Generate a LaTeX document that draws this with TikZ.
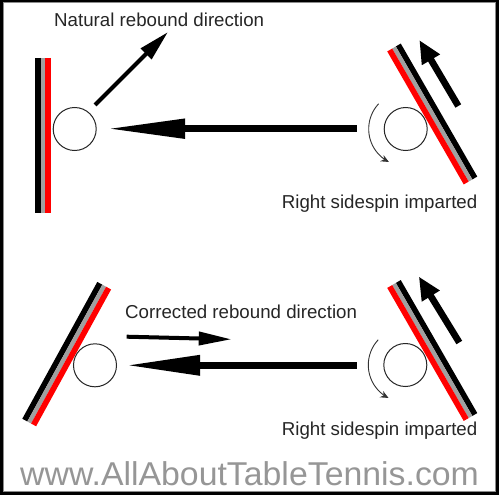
\documentclass[tikz,border=0pt]{standalone}
\usepackage{fontspec}
\setmainfont{Liberation Sans}
\usetikzlibrary{arrows.meta}
\definecolor{rgray}{RGB}{160,160,160}
\definecolor{wgray}{RGB}{150,150,150}
\definecolor{rred}{RGB}{255,0,0}
\begin{document}
\begin{tikzpicture}[x=1pt,y=-1pt,
  lbl/.style={inner sep=0pt, anchor=base west, text=black!85, font=\fontsize{18.7}{22}\selectfont},
  wmark/.style={inner sep=0pt, anchor=base west, text=wgray, font=\fontsize{33}{36}\selectfont},
  ball/.style={circle, draw=black!85, line width=1pt, minimum size=43pt, inner sep=0pt},
  rblack/.style={line width=5.7pt, black},
  rgr/.style={line width=4.3pt, rgray},
  rrd/.style={line width=5.7pt, rred},
  bigarrow/.style={line width=6.5pt, -{Triangle[length=78pt,width=18.5pt]}},
  thinarrow/.style={line width=4pt, -{Triangle[length=31pt,width=14.5pt]}},
  uparrow/.style={line width=6.7pt, -{Triangle[length=23pt,width=19.5pt]}},
  spin/.style={line width=0.9pt, black!80, -{Stealth[length=8pt,width=7pt]}}
]
\fill[white] (0,0) rectangle (500,500);
\useasboundingbox (0,0) rectangle (500,500);
% frame
\draw[line width=2.5pt, black] (1.25,1.25) rectangle (497.5,493.5);
\draw[line width=1pt, black!45] (3,3) rectangle (495.5,491.5);

% ===== top panel =====
% vertical racket
\draw[rblack] (37.85,58) -- (37.85,212.7);
\draw[rgr] (42.85,58) -- (42.85,212.7);
\draw[rrd] (47.85,58) -- (47.85,212.7);
% tilted racket top right
\draw[rblack] (398.3,45.0) -- (474.8,178.0);
\draw[rgr] (394,47.5) -- (470.5,180.5);
\draw[rrd] (389.7,50.0) -- (466.2,183.0);

\node[ball] (ball1) at (74.7,129) {};
\node[ball] (ball2) at (405.7,129) {};

\coordinate (a1s) at (356.7,128.7);
\coordinate (a1e) at (107,128.7);
\draw[bigarrow] (a1s) -- (a1e);

\coordinate (n1s) at (95,105);
\coordinate (n1e) at (168,32);
\draw[thinarrow] (n1s) -- (n1e);

\coordinate (u1s) at (458.3,106);
\coordinate (u1e) at (419.3,40);
\draw[uparrow] (u1s) -- (u1e);

\draw[spin] plot[domain=223:117,samples=40] ({405.7+37*cos(\x)},{129+37*sin(\x)});

\node[lbl] (t1) at (54,26.7) {Natural rebound direction};
\node[lbl] (t2) at (281.7,208.3) {Right sidespin imparted};

% ===== bottom panel =====
\draw[rblack] (99.8,283.3) -- (24.8,420.1);
\draw[rgr] (104.2,285.7) -- (29.2,422.5);
\draw[rrd] (108.6,288.1) -- (33.6,424.9);

\draw[rblack] (398.3,281.5) -- (474.8,414.5);
\draw[rgr] (394,284) -- (470.5,417);
\draw[rrd] (389.7,286.5) -- (466.2,419.5);

\node[ball] (ball3) at (95,365.3) {};
\node[ball] (ball4) at (405.3,365) {};

\coordinate (a2s) at (356.7,365.3);
\coordinate (a2e) at (126,365.3);
\draw[bigarrow, -{Triangle[length=74pt,width=19pt]}] (a2s) -- (a2e);

\coordinate (c2s) at (126.7,336.7);
\coordinate (c2e) at (231.7,339.3);
\draw[thinarrow, -{Triangle[length=33pt,width=13pt]}] (c2s) -- (c2e);

\coordinate (u2s) at (459.3,342.5);
\coordinate (u2e) at (418.8,276.5);
\draw[uparrow] (u2s) -- (u2e);

\draw[spin] plot[domain=223:117,samples=40] ({405.3+37*cos(\x)},{365+37*sin(\x)});

\node[lbl] (t3) at (125,318.3) {Corrected rebound direction};
\node[lbl] (t4) at (281.7,435) {Right sidespin imparted};

\node[wmark] (wm) at (20,485.5) {\scalebox{1.025}[1]{www.AllAboutTableTennis.com}};
\end{tikzpicture}
\end{document}
